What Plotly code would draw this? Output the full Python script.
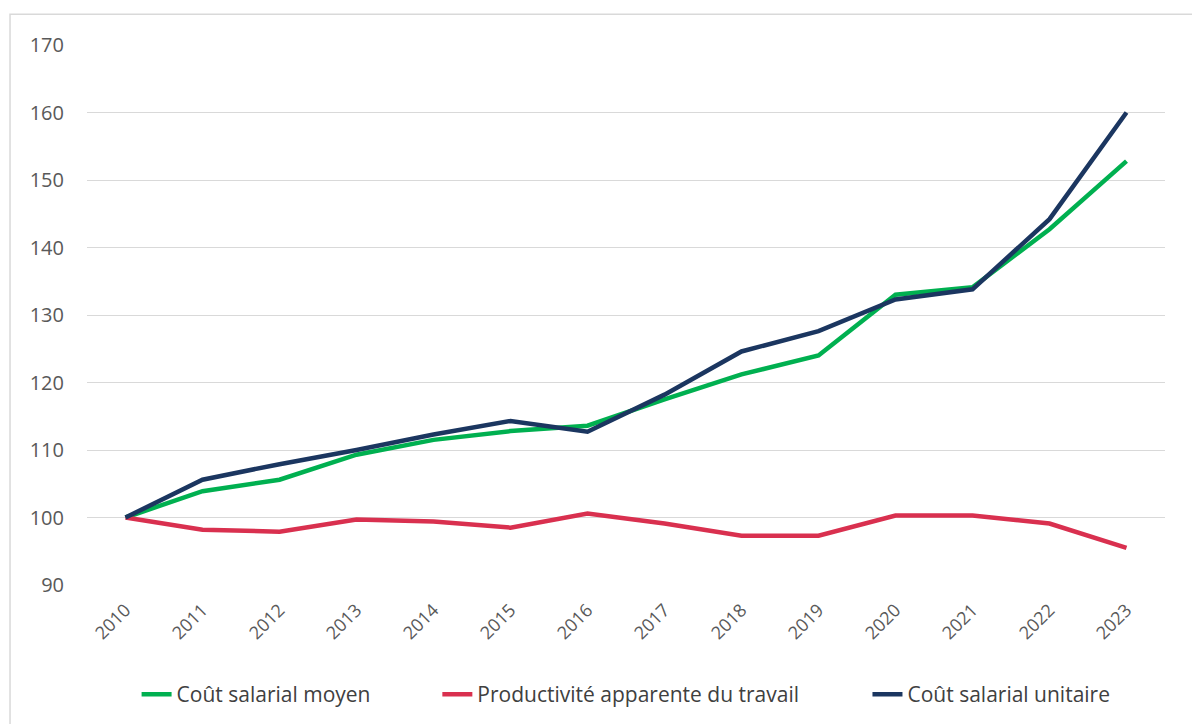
import plotly.graph_objects as go

years = [str(y) for y in range(2010, 2024)]
cout_moyen = [100, 103.9, 105.6, 109.3, 111.5, 112.8, 113.6, 117.5, 121.2, 124.0, 133.0, 134.1, 142.7, 152.8]
productivite = [100, 98.2, 97.9, 99.7, 99.4, 98.5, 100.6, 99.1, 97.3, 97.3, 100.3, 100.3, 99.1, 95.5]
cout_unitaire = [100, 105.6, 107.9, 110.0, 112.3, 114.3, 112.7, 118.2, 124.6, 127.6, 132.3, 133.8, 144.2, 160.0]
y_ticks = [90, 100, 110, 120, 130, 140, 150, 160, 170]

fig = go.Figure()
fig.add_trace(go.Scatter(x=years, y=cout_moyen, mode="lines", name="Coût salarial moyen",
                         line=dict(color="#00B050", width=4.5), legend="legend"))
fig.add_trace(go.Scatter(x=years, y=productivite, mode="lines", name="Productivité apparente du travail",
                         line=dict(color="#D9304F", width=4.5), legend="legend2"))
fig.add_trace(go.Scatter(x=years, y=cout_unitaire, mode="lines", name="Coût salarial unitaire",
                         line=dict(color="#1B3660", width=4.5), legend="legend3"))

leg_common = dict(orientation="h", xanchor="left", y=-0.165, yanchor="top",
                  font=dict(size=21, color="#404040"), bgcolor="rgba(0,0,0,0)")

fig.update_layout(
    width=1200, height=724,
    margin=dict(l=79, r=43, t=37, b=147),
    paper_bgcolor="white", plot_bgcolor="white",
    font=dict(family="Open Sans, Liberation Sans, sans-serif", color="#595959", size=18),
    showlegend=True,
    legend=dict(x=0.046, **leg_common),
    legend2=dict(x=0.325, **leg_common),
    legend3=dict(x=0.724, **leg_common),
    xaxis=dict(type="category", range=[-0.5, 13.5], showgrid=False, zeroline=False, showline=False,
               tickangle=-45, tickfont=dict(size=18, color="#595959"), ticks="", ticklabelstandoff=10),
    yaxis=dict(range=[90, 170], tickvals=y_ticks, showgrid=True, gridcolor="#D9D9D9",
               gridwidth=1.2, zeroline=False, showline=False, ticks="", ticklabelstandoff=22,
               tickfont=dict(size=20, color="#595959")),
    shapes=[dict(type="rect", xref="paper", yref="paper",
                 x0=-0.0714, x1=1.2, y0=-0.3, y1=1.057,
                 line=dict(color="#D9D9D9", width=1.5), fillcolor="rgba(0,0,0,0)", layer="below")],
)

fig.write_html("out.html")
